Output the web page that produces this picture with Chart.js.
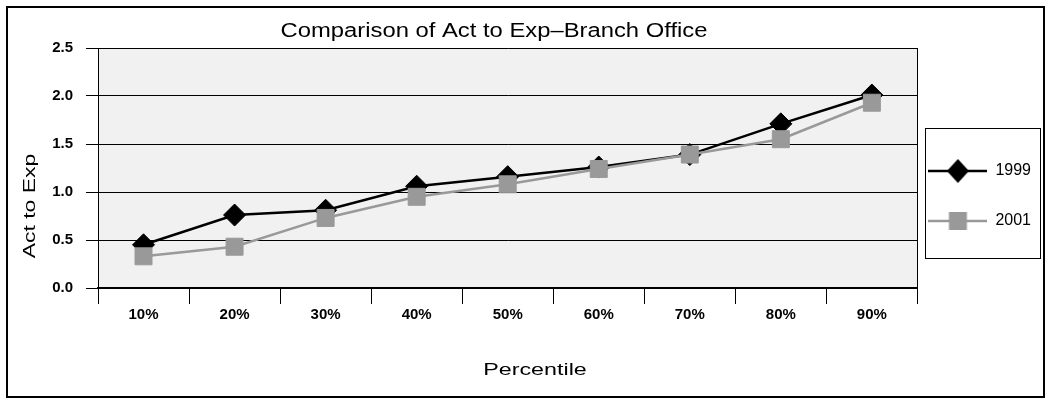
<!DOCTYPE html>
<html>
<head>
<meta charset="utf-8">
<title>Comparison of Act to Exp–Branch Office</title>
<script src="https://cdn.jsdelivr.net/npm/chart.js@4/dist/chart.umd.min.js"></script>
<style>
  html, body { margin: 0; padding: 0; background: #fff; }
  #wrap { width: 1049px; height: 400px; }
</style>
</head>
<body>
<div id="wrap"><canvas id="chart" width="1049" height="400"></canvas></div>
<script>
// ---- data ----
const categories = ['10%', '20%', '30%', '40%', '50%', '60%', '70%', '80%', '90%'];
const values1999 = [0.45, 0.76, 0.81, 1.06, 1.16, 1.26, 1.39, 1.71, 2.01];
const values2001 = [0.33, 0.43, 0.73, 0.95, 1.08, 1.24, 1.39, 1.55, 1.93];
const seriesNames = ['1999', '2001'];
const yTickLabels = ['0.0', '0.5', '1.0', '1.5', '2.0', '2.5'];

const chartTitle = 'Comparison of Act to Exp–Branch Office';
const xTitle = 'Percentile';
const yTitle = 'Act to Exp';

// ---- styling ----
const FONT = '"Liberation Sans", Arial, Helvetica, sans-serif';
const BLACK = '#000000';
const GREY = '#999999';
const PLOT_BG = '#f1f1f1';

// legend swatch: a short line with the series marker in the middle
function legendSwatch(color, shape) {
  const c = document.createElement('canvas');
  c.width = 59; c.height = 26;
  const g = c.getContext('2d');
  g.strokeStyle = color;
  g.lineWidth = 2.5;
  g.beginPath(); g.moveTo(0, 13); g.lineTo(59, 13); g.stroke();
  g.fillStyle = color;
  g.beginPath();
  if (shape === 'diamond') {
    g.moveTo(29.5, 1); g.lineTo(40.5, 13); g.lineTo(29.5, 25); g.lineTo(18.5, 13);
    g.closePath();
  } else {
    g.rect(20.5, 4, 18, 18);
  }
  g.fill();
  return c;
}
const swatches = [legendSwatch(BLACK, 'diamond'), legendSwatch(GREY, 'square')];

// wide-set caption text: glyphs stretched along the writing direction
function wideText(ctx, text, x, y, size, stretch, rotation) {
  ctx.save();
  ctx.translate(x, y);
  if (rotation) ctx.rotate(rotation);
  ctx.scale(stretch, 1);
  ctx.font = size + 'px ' + FONT;
  ctx.fillStyle = BLACK;
  ctx.textAlign = 'center';
  ctx.textBaseline = 'alphabetic';
  ctx.fillText(text, 0, 0);
  ctx.restore();
}

const decorations = {
  id: 'decorations',
  beforeDraw(chart) {
    const { ctx, chartArea: a } = chart;
    ctx.save();
    ctx.fillStyle = '#ffffff';
    ctx.fillRect(0, 0, chart.width, chart.height);
    ctx.fillStyle = PLOT_BG;
    ctx.fillRect(a.left, a.top, a.right - a.left, a.bottom - a.top);
    ctx.restore();
  },
  beforeDatasetsDraw(chart) {
    const { ctx, chartArea: a } = chart;
    const x = Math.round(a.right - 0.5) + 0.5;
    ctx.save();
    ctx.strokeStyle = BLACK;
    ctx.lineWidth = 1;
    ctx.beginPath(); ctx.moveTo(x, a.top); ctx.lineTo(x, a.bottom); ctx.stroke();
    ctx.restore();
  },
  afterDraw(chart) {
    const ctx = chart.ctx;
    // outer frame
    ctx.save();
    ctx.strokeStyle = BLACK;
    ctx.lineWidth = 2;
    ctx.strokeRect(7, 7, 1037, 390);
    // legend frame
    const lg = chart.legend;
    const hb = lg.legendHitBoxes;
    if (hb && hb.length) {
      const top = Math.round(hb[0].top - 35) + 0.5;
      const bottom = Math.round(hb[hb.length - 1].top + 45) + 0.5;
      const left = Math.round(lg.left + 8) + 0.5;
      const right = Math.round(lg.right) - 0.5;
      ctx.lineWidth = 1;
      ctx.strokeRect(left, top, right - left, bottom - top);
    }
    ctx.restore();
    // captions
    wideText(ctx, chartTitle, 494, 37, 20, 1.19, 0);
    wideText(ctx, xTitle, 535, 375, 17, 1.37, 0);
    wideText(ctx, yTitle, 35, 206, 17, 1.35, -Math.PI / 2);
  }
};

new Chart(document.getElementById('chart'), {
  type: 'line',
  data: {
    labels: categories,
    datasets: [
      {
        label: seriesNames[0],
        data: values1999,
        order: 1,
        borderColor: BLACK,
        backgroundColor: BLACK,
        borderWidth: 2.5,
        tension: 0,
        pointStyle: 'rectRot',
        pointRadius: 11,
        pointHoverRadius: 11,
        pointBackgroundColor: BLACK,
        pointBorderColor: BLACK,
        pointBorderWidth: 1
      },
      {
        label: seriesNames[1],
        data: values2001,
        order: 0,
        borderColor: GREY,
        backgroundColor: GREY,
        borderWidth: 2.5,
        tension: 0,
        pointStyle: 'rect',
        pointRadius: 12,
        pointHoverRadius: 12,
        pointBackgroundColor: GREY,
        pointBorderColor: GREY,
        pointBorderWidth: 1
      }
    ]
  },
  options: {
    responsive: false,
    animation: false,
    devicePixelRatio: 1,
    layout: { padding: { top: 48, left: 8, right: 8, bottom: 33 } },
    plugins: {
      title: { display: false },
      tooltip: { enabled: false },
      legend: {
        position: 'right',
        labels: {
          usePointStyle: true,
          pointStyleWidth: 59,
          padding: 11,
          color: BLACK,
          font: { family: FONT, size: 16, lineHeight: 39 / 16 },
          generateLabels: (chart) => chart.data.datasets.map((ds, i) => ({
            text: [ds.label],
            pointStyle: swatches[i],
            fillStyle: ds.borderColor,
            strokeStyle: ds.borderColor,
            lineWidth: 0,
            fontColor: BLACK,
            hidden: !chart.isDatasetVisible(i),
            datasetIndex: i
          }))
        }
      }
    },
    scales: {
      x: {
        offset: true,
        ticks: {
          padding: 2,
          color: BLACK,
          autoSkip: false,
          maxRotation: 0,
          font: { family: FONT, size: 15, weight: 'bold' }
        },
        grid: { color: BLACK, lineWidth: 1, drawOnChartArea: false, drawTicks: true, tickLength: 16, offset: true },
        border: { color: BLACK, width: 2 },
        afterFit: (s) => { s.height = 79; }
      },
      y: {
        min: 0,
        max: 2.5,
        ticks: {
          stepSize: 0.5,
          padding: 13,
          color: BLACK,
          font: { family: FONT, size: 15, weight: 'bold' },
          callback: (v, i) => yTickLabels[i]
        },
        grid: { color: BLACK, lineWidth: 1, drawTicks: true, tickLength: 12 },
        border: { color: BLACK, width: 1 },
        afterFit: (s) => { s.width = 90; }
      }
    }
  },
  plugins: [decorations]
});
</script>
</body>
</html>
